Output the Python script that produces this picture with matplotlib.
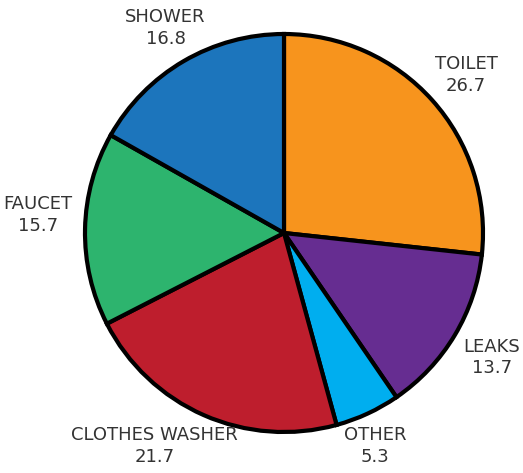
import matplotlib
matplotlib.use("Agg")
import matplotlib.pyplot as plt

categories = ["TOILET", "LEAKS", "OTHER", "CLOTHES WASHER", "FAUCET", "SHOWER"]
values = [26.7, 13.7, 5.3, 21.7, 15.7, 16.8]
colors = ["#F7941D", "#662D91", "#00AEEF", "#BE1E2D", "#2DB46E", "#1C75BC"]

# label centres in units of the pie radius (layout only)
label_pos = [(0.915, 0.795), (1.045, -0.625), (0.457, -1.07),
             (-0.65, -1.07), (-1.236, 0.09), (-0.595, 1.03)]

fig = plt.figure(figsize=(5.23, 4.73), dpi=100)
ax = fig.add_axes([85 / 523, 41 / 473, 398 / 523, 398 / 473])

wedges, _ = ax.pie(values, colors=colors, startangle=90, counterclock=False,
                   wedgeprops=dict(edgecolor="black", linewidth=3))

for name, val, (x, y) in zip(categories, values, label_pos):
    ax.text(x, y, f"{name}\n{val}", ha="center", va="center", fontsize=13,
            color="#333333", linespacing=1.25, clip_on=False)

ax.set_xlim(-1.0, 1.0)
ax.set_ylim(-1.0, 1.0)
ax.set_aspect("equal")
ax.axis("off")
fig.savefig("out.png", dpi=100)
